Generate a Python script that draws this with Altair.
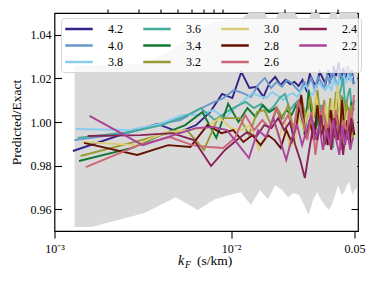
import altair as alt
import pandas as pd

# ---------------- data ----------------
redshifts = ["4.2", "4.0", "3.8", "3.6", "3.4", "3.2", "3.0", "2.8", "2.6", "2.4", "2.2"]
line_colors = ["#332288", "#6699CC", "#88CCEE", "#44AA99", "#117733", "#999933",
               "#DDCC77", "#661100", "#CC6677", "#882255", "#AA4499"]
# fundamental k-mode of each redshift (s/km); the points sit at multiples of it
k_fundamental = [0.001271, 0.001296, 0.001321, 0.001348, 0.001376, 0.001405,
                 0.001437, 0.001470, 0.001504, 0.001541, 0.001580]

ratio_42 = [0.9867, 0.9949, 0.9991, 0.9954, 0.9986, 1.0046, 1.0129, 1.0110, 1.0230, 1.0156,
            1.0161, 1.0115, 1.0179, 1.0207, 1.0170, 1.0193, 1.0174, 1.0184, 1.0165, 1.0193,
            1.0147, 1.0220, 1.0184, 1.0165, 1.0230, 1.0202, 1.0174, 1.0239, 1.0193, 1.0257,
            1.0211, 1.0275, 1.0193, 1.0248, 1.0202, 1.0257, 1.0193, 1.0239, 1.0174]
ratio_40 = [0.9917, 0.9949, 0.9991, 1.0009, 1.0055, 1.0087, 1.0110, 1.0147, 1.0133, 1.0115,
            1.0170, 1.0202, 1.0156, 1.0184, 1.0161, 1.0193, 1.0179, 1.0156, 1.0138, 1.0184,
            1.0165, 1.0202, 1.0147, 1.0207, 1.0184, 1.0156, 1.0216, 1.0174, 1.0239, 1.0193,
            1.0165, 1.0230, 1.0184, 1.0211, 1.0257, 1.0193, 1.0230, 1.0174]
ratio_38 = [0.9968, 0.9963, 0.9991, 1.0032, 1.0032, 1.0055, 1.0018, 1.0064, 1.0101, 1.0133,
            1.0119, 1.0110, 1.0138, 1.0119, 1.0101, 1.0124, 1.0133, 1.0115, 1.0147, 1.0170,
            1.0138, 1.0124, 1.0165, 1.0179, 1.0156, 1.0147, 1.0170, 1.0147, 1.0193, 1.0165,
            1.0202, 1.0174, 1.0211, 1.0184, 1.0220, 1.0193, 1.0211]
ratio_36 = [0.9927, 0.9954, 0.9986, 1.0023, 1.0064, 1.0009, 1.0046, 1.0073, 1.0092, 1.0064,
            1.0083, 1.0046, 1.0073, 1.0110, 1.0129, 1.0055, 1.0083, 1.0101, 1.0032, 1.0064,
            1.0009, 1.0046, 0.9982, 1.0078, 0.9972, 1.0032, 0.9917, 0.9881, 1.0018, 1.0101,
            1.0147, 1.0202, 1.0055, 1.0119, 1.0156, 1.0032, 1.0101]
ratio_34 = [0.9821, 0.9881, 0.9945, 0.9986, 1.0046, 0.9927, 1.0083, 1.0000, 1.0064, 1.0023,
            1.0078, 1.0046, 1.0064, 1.0018, 1.0055, 1.0032, 1.0078, 1.0046, 0.9940, 1.0147,
            1.0009, 0.9972, 1.0055, 0.9963, 1.0032, 0.9986, 1.0064, 1.0018, 1.0101, 1.0046,
            1.0115, 1.0032, 1.0078, 1.0018, 1.0092, 1.0055]
ratio_32 = [0.9844, 0.9908, 0.9945, 0.9963, 0.9872, 1.0018, 1.0018, 1.0018, 0.9940, 1.0046,
            1.0055, 0.9986, 1.0064, 1.0018, 1.0078, 0.9972, 1.0046, 1.0101, 1.0000, 1.0119,
            1.0018, 1.0147, 0.9986, 1.0101, 0.9963, 1.0110, 1.0009, 1.0138, 0.9940, 1.0124,
            0.9963, 1.0101, 0.9986, 1.0078, 0.9917]
ratio_30 = [0.9908, 0.9894, 0.9954, 0.9963, 0.9972, 1.0018, 0.9972, 0.9963, 0.9986, 0.9872,
            0.9940, 1.0009, 0.9927, 1.0009, 0.9881, 0.9917, 1.0018, 0.9963, 1.0055, 0.9986,
            1.0124, 1.0032, 0.9963, 1.0078, 0.9940, 1.0101, 1.0009, 1.0170, 0.9963, 1.0101,
            0.9917, 1.0055, 0.9940, 1.0018]
ratio_28 = [0.9904, 0.9849, 0.9894, 0.9885, 0.9986, 0.9949, 0.9963, 0.9908, 0.9940, 0.9894,
            0.9940, 0.9917, 0.9881, 0.9963, 0.9908, 0.9986, 1.0124, 0.9927, 1.0009, 0.9917,
            1.0078, 0.9940, 0.9986, 0.9894, 1.0055, 0.9927, 1.0032, 0.9917, 1.0101, 0.9940,
            1.0009, 0.9894, 1.0018, 0.9940]
ratio_26 = [0.9793, 0.9894, 0.9931, 0.9894, 0.9885, 0.9881, 0.9927, 1.0032, 0.9963, 1.0009,
            0.9972, 1.0064, 0.9986, 1.0032, 0.9963, 1.0101, 1.0009, 0.9917, 1.0046, 0.9849,
            0.9986, 1.0078, 0.9940, 1.0018, 0.9894, 1.0055, 0.9963, 0.9872, 1.0009, 0.9940,
            1.0055, 0.9986, 1.0124]
ratio_24 = [0.9936, 0.9940, 0.9949, 0.9917, 0.9798, 0.9872, 0.9917, 0.9954, 0.9931, 0.9986,
            0.9972, 1.0018, 0.9963, 1.0000, 0.9894, 0.9826, 0.9743, 0.9872, 0.9986, 0.9917,
            1.0032, 0.9894, 0.9972, 0.9872, 1.0018, 0.9917, 0.9986, 0.9849, 0.9963, 0.9917,
            1.0018, 0.9954]
ratio_22 = [1.0028, 0.9894, 0.9940, 0.9972, 0.9977, 0.9963, 0.9894, 0.9835, 0.9963, 0.9931,
            1.0018, 0.9917, 0.9826, 0.9927, 0.9986, 0.9894, 0.9963, 1.0032, 0.9917, 0.9986,
            0.9872, 0.9963, 0.9894, 1.0009, 0.9917, 0.9849, 0.9986, 0.9894, 0.9963, 0.9872,
            0.9927]
series_values = [ratio_42, ratio_40, ratio_38, ratio_36, ratio_34, ratio_32,
                 ratio_30, ratio_28, ratio_26, ratio_24, ratio_22]

band_k = [0.00130, 0.00162, 0.00324, 0.00486, 0.00648, 0.00810, 0.00972, 0.01134, 0.01296,
          0.01458, 0.01620, 0.01782, 0.01944, 0.02106, 0.02268, 0.02430, 0.02592, 0.02754,
          0.02916, 0.03078, 0.03240, 0.03402, 0.03564, 0.03726, 0.03888, 0.04050, 0.04212,
          0.04374, 0.04536, 0.04698, 0.04860, 0.05022, 0.05184]
band_lower = [0.9518, 0.9518, 0.9582, 0.9655, 0.9596, 0.9646, 0.9664, 0.9678, 0.9619, 0.9688,
              0.9646, 0.9710, 0.9688, 0.9655, 0.9674, 0.9665, 0.9619, 0.9573, 0.9642, 0.9678,
              0.9642, 0.9619, 0.9596, 0.9619, 0.9665, 0.9710, 0.9665, 0.9678, 0.9710, 0.9724,
              0.9665, 0.9688, 0.9700]
band_upper = [1.026, 1.026, 1.027, 1.034, 1.042, 1.046, 1.047, 1.047, 1.051, 1.055,
              1.047, 1.047, 1.053, 1.054, 1.051, 1.047, 1.047, 1.047, 1.052, 1.053,
              1.047, 1.047, 1.047, 1.053, 1.052, 1.047, 1.056, 1.060, 1.060, 1.060,
              1.060, 1.060, 1.060]

x_major_ticks = [0.001, 0.01, 0.05]
x_minor_ticks = [0.002, 0.003, 0.004, 0.005, 0.006, 0.007, 0.008, 0.009, 0.02, 0.03, 0.04]
y_ticks = [0.96, 0.98, 1.00, 1.02, 1.04]

rows = []
for z, kf, vals in zip(redshifts, k_fundamental, series_values):
    for n, v in enumerate(vals, start=1):
        rows.append({"z": z, "k": n * kf, "ratio": v})
lines_df = pd.DataFrame(rows)
band_df = pd.DataFrame({"k": band_k, "lo": band_lower, "hi": band_upper})

# ---------------- chart ----------------
W, H = 303.5, 218
FONT = "Liberation Serif"
xs = alt.Scale(type="log", domain=[0.001, 0.0524], nice=False)
ys = alt.Scale(domain=[0.95, 1.05], nice=False, zero=False)

x_main_axis = alt.Axis(values=x_major_ticks, tickSize=7, labelPadding=5, labelFlush=False,
                       labelExpr="datum.value < 0.005 ? '10⁻³' : (datum.value < 0.03 ? '10⁻²' : '0.05')",
                       title=None, grid=False, domain=False)
y_main_axis = alt.Axis(values=y_ticks, ticks=False, format=".2f", labelPadding=3.5,
                       labelFlush=False, title="Predicted/Exact", titlePadding=7,
                       grid=False, domain=False)

band = alt.Chart(band_df).mark_area(color="#d9d9d9", clip=True).encode(
    x=alt.X("k:Q", scale=xs, axis=x_main_axis),
    y=alt.Y("lo:Q", scale=ys, axis=y_main_axis),
    y2="hi:Q",
)

lines = alt.Chart(lines_df).mark_line(strokeWidth=1.9, clip=True).encode(
    x=alt.X("k:Q", scale=xs),
    y=alt.Y("ratio:Q", scale=ys),
    color=alt.Color(
        "z:N",
        scale=alt.Scale(domain=redshifts, range=line_colors),
        legend=alt.Legend(
            title=None, orient="none", legendX=6.5, legendY=5, columns=4,
            symbolType="M-2.5,0H2.5", symbolSize=121, symbolStrokeWidth=2.5,
            symbolOffset=7, labelOffset=22,
            labelFont=FONT, labelFontSize=12, labelColor="black",
            fillColor="rgba(255,255,255,0.8)", strokeColor="#d6d6d6",
            cornerRadius=3, padding=4, rowPadding=3.5, columnPadding=15,
        ),
    ),
)

main = alt.layer(band, lines)

# inward ticks on left spine + minor x ticks
ticks_a = alt.Chart(band_df).mark_point(opacity=0).encode(
    x=alt.X("k:Q", scale=xs, axis=alt.Axis(values=x_minor_ticks, tickSize=4, labels=False,
                                            title=None, grid=False, domain=False)),
    y=alt.Y("lo:Q", scale=ys, axis=alt.Axis(orient="right", offset=-W, values=y_ticks,
                                             tickSize=7, labels=False, title=None,
                                             grid=False, domain=False)),
)
# inward ticks on right spine
ticks_b = alt.Chart(band_df).mark_point(opacity=0).encode(
    x=alt.X("k:Q", scale=xs, axis=None),
    y=alt.Y("lo:Q", scale=ys, axis=alt.Axis(orient="left", offset=-W, values=y_ticks,
                                             tickSize=7, labels=False, title=None,
                                             grid=False, domain=False)),
)

title_df = pd.DataFrame({"t": [0]})
t_k = alt.Chart(title_df).mark_text(text="k", font=FONT, fontStyle="italic", fontSize=14,
                                    align="left", baseline="alphabetic", color="black").encode(
    x=alt.value(123.5), y=alt.value(252))
t_f = alt.Chart(title_df).mark_text(text="F", font=FONT, fontStyle="italic", fontSize=9.5,
                                    align="left", baseline="alphabetic", color="black").encode(
    x=alt.value(130.5), y=alt.value(255))
t_u = alt.Chart(title_df).mark_text(text="(s/km)", font=FONT, fontSize=13.5,
                                    align="left", baseline="alphabetic", color="black").encode(
    x=alt.value(142.5), y=alt.value(252))

chart = alt.layer(main, ticks_a, ticks_b, t_k, t_f, t_u).resolve_scale(
    x="independent", y="independent"
).properties(
    width=W, height=H, autosize=alt.AutoSizeParams(type="none"),
    padding={"left": 46.5, "top": 5, "right": 13, "bottom": 40},
).configure_view(
    stroke="black", strokeWidth=1.2
).configure_axis(
    labelFont=FONT, labelFontSize=12, labelColor="black", tickColor="black", tickWidth=1.1,
    titleFont=FONT, titleFontSize=13.5, titleColor="black", titleFontWeight="normal",
)

chart.save("out.html", embed_options={"renderer": "svg", "actions": False})
